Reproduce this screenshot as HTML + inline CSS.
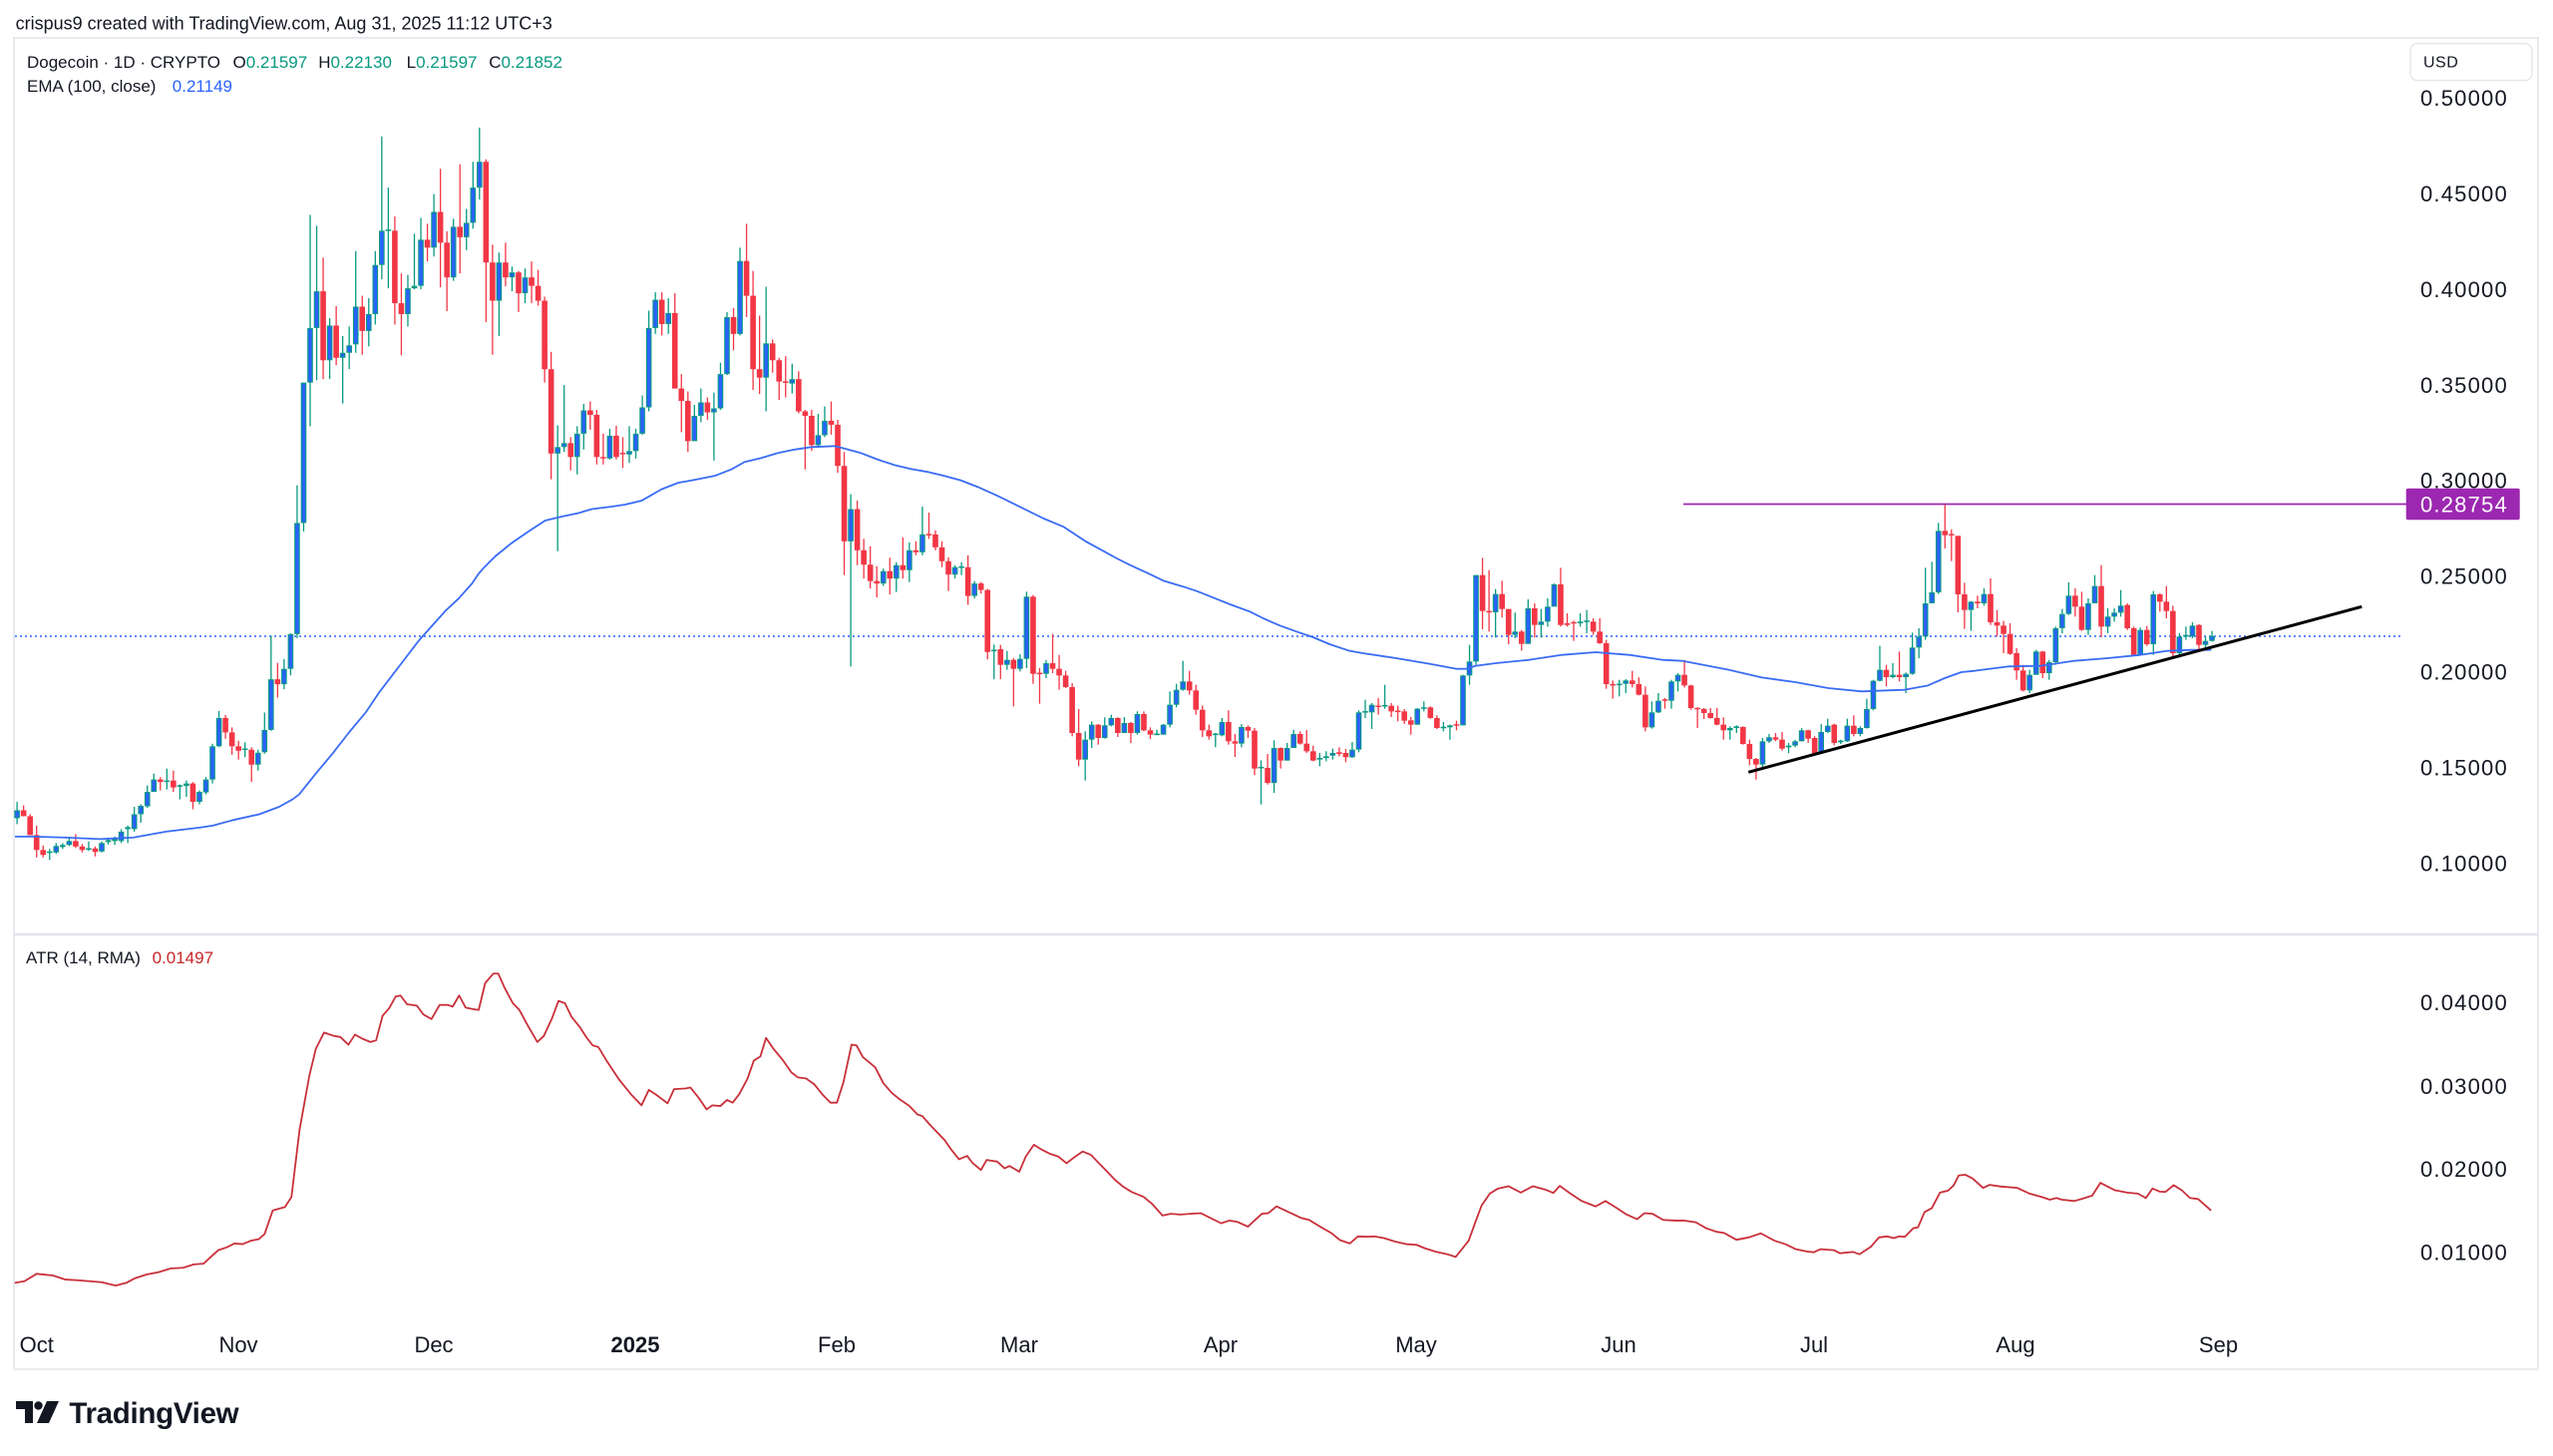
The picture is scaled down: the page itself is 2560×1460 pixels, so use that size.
<!DOCTYPE html>
<html><head><meta charset="utf-8">
<style>
html,body{margin:0;padding:0;background:#fff;}
body{width:2560px;height:1460px;overflow:hidden;}
svg{display:block;font-family:"Liberation Sans",Arial,sans-serif;}
</style></head><body>
<svg id="c" width="2560" height="1460" viewBox="0 0 2560 1460" xmlns="http://www.w3.org/2000/svg">
<rect width="2560" height="1460" fill="#ffffff"/>
<rect x="14" y="38" width="2531" height="1335" fill="none" stroke="#e8eaef" stroke-width="2"/>
<line x1="14" y1="937" x2="2545" y2="937" stroke="#e0e3eb" stroke-width="2.5"/>

<g id="plot"></g>

<!-- header -->
<text x="15.6" y="29.5" font-size="18" fill="#131722">crispus9 created with TradingView.com, Aug 31, 2025 11:12 UTC+3</text>
<text x="27" y="67.8" font-size="17" fill="#131722">Dogecoin · 1D · CRYPTO</text>
<text x="233.5" y="67.8" font-size="17" fill="#131722">O<tspan fill="#089981">0.21597</tspan></text>
<text x="319.2" y="67.8" font-size="17" fill="#131722">H<tspan fill="#089981">0.22130</tspan></text>
<text x="407.6" y="67.8" font-size="17" fill="#131722">L<tspan fill="#089981">0.21597</tspan></text>
<text x="490.2" y="67.8" font-size="17" fill="#131722">C<tspan fill="#089981">0.21852</tspan></text>
<text x="27" y="92.1" font-size="17" fill="#131722">EMA (100, close)</text>
<text x="172.8" y="92.1" font-size="17" fill="#2962ff">0.21149</text>
<text x="26" y="966" font-size="17" fill="#131722">ATR (14, RMA)</text>
<text x="152.6" y="966" font-size="17" fill="#c62828">0.01497</text>

<!-- USD box -->
<rect x="2417" y="43.6" width="122" height="37" rx="7" fill="#ffffff" stroke="#e6e8ee" stroke-width="1.5"/>
<text x="2430" y="67.7" font-size="16" fill="#131722" letter-spacing="0.5">USD</text>

<!-- price axis -->
<g font-size="22" fill="#131722" letter-spacing="1.2">
<text x="2427" y="106.1">0.50000</text>
<text x="2427" y="202">0.45000</text>
<text x="2427" y="297.9">0.40000</text>
<text x="2427" y="393.8">0.35000</text>
<text x="2427" y="489.7">0.30000</text>
<text x="2427" y="585.6">0.25000</text>
<text x="2427" y="681.5">0.20000</text>
<text x="2427" y="777.4">0.15000</text>
<text x="2427" y="873.3">0.10000</text>
<text x="2427" y="1012.9">0.04000</text>
<text x="2427" y="1096.9">0.03000</text>
<text x="2427" y="1180.2">0.02000</text>
<text x="2427" y="1263.6">0.01000</text>
</g>

<!-- purple level label -->
<rect x="2412.7" y="489.7" width="114" height="31.5" rx="2" fill="#9c27b0"/>
<text x="2427" y="513.4" font-size="22" fill="#ffffff" letter-spacing="1.2">0.28754</text>

<!-- time axis -->
<g font-size="22" fill="#131722" text-anchor="middle">
<text x="36.7" y="1356">Oct</text>
<text x="239" y="1356">Nov</text>
<text x="435" y="1356">Dec</text>
<text x="637" y="1356" font-weight="bold">2025</text>
<text x="839" y="1356">Feb</text>
<text x="1022" y="1356">Mar</text>
<text x="1224" y="1356">Apr</text>
<text x="1420" y="1356">May</text>
<text x="1623" y="1356">Jun</text>
<text x="1819" y="1356">Jul</text>
<text x="2021" y="1356">Aug</text>
<text x="2224.5" y="1356">Sep</text>
</g>

<!-- TradingView logo -->
<g fill="#131722">
<path d="M16 1405 H33 V1427 H25 V1413 H16 Z"/>
<circle cx="38.5" cy="1409.5" r="4.2"/>
<path d="M47 1405 H59 L49 1427 H37 Z"/>
</g>
<text x="69.4" y="1427" font-size="29.5" font-weight="bold" fill="#131722" letter-spacing="-0.3">TradingView</text>
</svg>

<script>
(function(){
const Z={
 z3:[0,110,3,2.01], z4:[480,110,3,2.01], z5:[1000,520,3,3], z6:[1500,480,3,3], z7:[1980,520,3,3],
 z8:[0,930,1.225,2.96], z9:[1280,930,1.225,2.96]
};
const cx=(z,v)=>z[0]+v/z[2];
const cy=(z,v)=>z[1]+v/z[3];
const X=d=>36.7+6.531*d;
const f=v=>v.toFixed(2);

const segs=[
[Z.z3,-3,`u 1412 1428 1395 1440
d 1412 1424 1402 1424
d 1424 1462 1420 1462
d 1462 1492 1443 1507
d 1492 1502 1483 1507
u 1495 1498 1490 1512
u 1484 1497 1478 1500
u 1482 1486 1478 1490
u 1474 1482 1467 1484
d 1474 1485 1460 1488
d 1485 1492 1480 1497
u 1489 1491 1475 1494
d 1489 1496 1485 1505
u 1478 1495 1475 1497
u 1472 1476 1467 1481
u 1470 1474 1465 1482
u 1455 1474 1450 1478
u 1446 1450 1443 1478
u 1420 1450 1405 1455
u 1403 1420 1400 1437
u 1375 1404 1362 1407
u 1350 1375 1338 1375
d 1350 1355 1345 1372
u 1352 1355 1328 1370
d 1352 1366 1332 1375
u 1362 1364 1360 1390
u 1358 1363 1352 1385
d 1358 1395 1355 1410
u 1375 1395 1372 1400
u 1350 1376 1345 1380
u 1283 1350 1278 1358
u 1226 1283 1212 1285
d 1226 1255 1220 1268
d 1255 1283 1245 1300
d 1283 1292 1272 1310
u 1288 1290 1275 1305
d 1290 1320 1285 1355
u 1296 1320 1290 1332
u 1250 1295 1215 1298
u 1148 1250 1060 1252
d 1148 1158 1115 1185
u 1127 1158 1107 1168
u 1057 1127 1055 1140
u 833 1057 757 1065
u 550 833 550 850
u 440 550 212 638
u 366 440 234 545
d 366 505 298 543
u 435 505 420 543
d 435 500 396 515
u 490 500 456 592
u 475 490 437 523
u 397 473 285 490
d 397 446 375 494
u 412 446 380 477
u 313 412 285 433
u 244 313 54 342
u 242 244 157 360
d 244 390 215 433
d 390 412 330 495
u 360 412 333 437
u 355 360 250 362
u 262 355 218 362
d 262 278 230 306
u 206 278 170 296
d 206 268 119 358
d 268 338 245 406
u 236 338 220 345
d 236 257 110 330
u 228 257 200 283
u 157 228 105 240
u 105 157 36 181`],
[Z.z4,69,`d 105 308 100 428
d 308 385 272 494
u 308 385 288 456
d 308 338 268 356
u 328 338 316 366
d 328 370 325 408
u 338 370 320 390
d 338 355 306 390
d 355 385 323 395
d 385 523 377 550
d 523 693 488 745
u 680 693 636 890
u 672 680 555 690
d 672 700 660 727
u 653 700 638 735
u 606 653 593 685
d 606 615 588 645
d 615 700 605 715
d 700 703 653 715
u 657 703 643 705
d 657 700 637 705
d 692 694 660 722
u 688 695 638 712
u 653 688 643 703
u 600 653 576 655
u 440 600 405 608
u 383 440 368 452
d 383 432 368 455
u 410 432 380 452
d 410 562 370 562
d 562 587 533 650
d 587 668 568 690
u 617 668 595 668
u 590 617 562 630
d 590 610 580 625
u 602 610 570 707
u 533 602 510 605
u 418 533 408 535
d 418 452 400 485
u 305 452 278 455
d 305 375 230 418
d 375 523 325 565
d 523 540 415 573
u 471 540 357 608
d 471 505 463 530
d 505 548 500 585
d 548 550 497 580
u 543 552 512 572
d 543 608 527 612
d 608 617 605 725
d 617 676 605 688
u 656 676 613 680
u 627 656 598 660
d 627 635 588 655
d 635 718 625 732
d 718 870 690 938
u 805 870 775 1122
d 805 888 788 918
d 888 917 865 945
d 917 950 880 965
d 950 955 920 983
u 930 955 925 960
d 930 945 903 977
u 918 945 912 972
d 918 928 862 945
u 888 928 872 952
d 888 892 870 898
u 856 892 800 898
d 855 858 812 865
d 856 882 848 888
d 882 910 870 922
d 910 937 902 970
u 922 937 918 945
u 921 923 912 938
d 922 980 898 998
u 955 980 950 985
d 955 968 952 975
d 968 1093 966 1108
u 1089 1091 1078 1148`],
[Z.z5,148,`d 393 440 380 483
u 425 440 398 455
d 425 452 420 565
u 422 452 408 460
u 235 422 220 450
d 235 467 230 497
d 465 467 450 557
u 435 467 425 480
d 435 452 347 465
d 452 472 410 515
d 472 507 458 510
d 507 645 495 655
d 645 725 573 745
u 665 725 640 788
u 620 665 610 690
d 620 660 618 680
u 622 660 598 662
u 600 622 590 625
d 600 645 597 657
u 615 645 597 645
d 615 645 612 675
u 588 645 580 650
d 588 637 580 640
d 637 650 628 663
u 648 650 635 652
u 620 650 618 650
u 560 620 520 628
u 515 560 497 568
u 490 515 428 518
d 490 517 458 530
d 517 575 500 590
d 575 637 562 657
d 637 655 620 665
u 648 650 645 688
u 612 652 600 655
d 612 670 577 680
d 670 677 648 717
u 627 677 618 688
d 627 638 622 660
d 638 752 630 772
u 748 750 727 860
d 750 795 708 800
u 690 795 667 825
d 690 728 688 752
u 690 728 675 728
u 648 690 635 690
d 648 677 640 680
d 677 700 636 705
d 700 728 683 730
u 720 725 705 745
u 715 720 700 730
u 705 713 692 725
d 703 708 688 715
d 705 718 693 733
u 695 718 672 720
u 583 695 577 703
u 580 583 545 600
u 560 583 555 633
d 563 567 540 590
u 562 564 500 572
d 563 580 555 597
d 578 582 563 610
d 580 608 573 618
d 607 620 597 650
u 572 620 570 620
u 568 572 550 580
d 568 600 565 602
d 600 630 592 633
u 627 630 612 640
u 622 628 620 665
d 620 622 608 637
u 472 622 470 622
u 430 472 380 500
u 170 430 170 440
d 170 278 118 333
d 278 282 155 340
u 227 282 212 358
d 227 272 187 298
d 272 350 272 378`],
[Z.z6,227,`u 460 470 403 480
d 460 497 455 517
u 390 497 363 497
d 390 440 375 478
u 430 440 392 478
u 385 430 360 445
u 318 385 315 385
d 318 440 268 445
d 435 440 405 445
d 432 435 427 488
u 430 435 405 445
u 428 430 395 465
d 430 460 420 470
d 460 495 420 497
d 495 618 485 632
d 618 622 607 662
u 618 620 605 655
u 607 617 603 645
d 607 618 578 628
d 618 650 598 652
d 650 748 625 760
u 703 748 670 752
u 668 703 645 705
d 664 668 660 692
u 610 668 605 692
u 590 610 585 640
d 590 622 545 628
d 622 690 620 695
d 690 693 688 750
d 693 705 690 723
d 705 720 690 722
d 720 740 690 742
d 740 757 718 785
u 750 757 745 785
u 745 750 742 765
d 747 798 745 800
d 798 843 785 862
d 843 860 840 905
u 790 860 780 870
u 778 790 768 795
d 778 785 765 790
d 785 812 762 818
u 803 808 795 826
u 790 803 786 808
u 757 790 750 790
d 757 782 755 795
d 780 826 775 828
u 762 826 738 826
u 743 762 722 765
d 740 795 737 802
u 788 793 785 798
u 743 790 722 792
d 743 768 712 775
u 750 768 745 775
u 693 750 662 752
u 608 693 605 697
u 575 608 503 610
d 575 597 560 625
u 590 597 555 600
d 590 597 520 610
u 587 597 583 645
u 508 587 463 590
u 475 508 450 540
u 375 475 268 485
u 342 375 250 375
u 157 342 133 347
d 157 170 76 210
d 167 170 152 248
d 172 348 172 402
d 348 395 313 452
u 370 395 368 458`],
[Z.z7,298,`d 250 255 232 270
u 227 255 210 262
d 227 312 180 320
d 312 322 275 355
d 322 347 308 405
d 347 407 315 410
d 405 457 390 485
d 457 517 440 520
u 470 517 455 525
u 400 470 395 470
d 400 465 398 480
u 432 465 425 485
u 330 432 325 440
u 287 330 272 345
u 232 287 192 290
d 232 265 210 295
d 265 335 220 338
u 255 335 240 350
u 203 255 170 255
d 203 325 140 357
u 295 325 270 345
u 283 295 270 310
u 262 283 215 295
d 260 330 255 335
d 330 410 325 412
u 335 410 328 412
d 335 378 323 383
u 228 378 218 410
d 228 250 225 280
d 250 278 203 300
d 278 405 262 423
u 355 405 345 418
u 350 355 325 365
u 322 355 312 360
d 320 380 318 400
u 368 380 355 393
u 353 368 338 370`]
];

const GREEN="#089981", BLUE="#2962ff", RED="#f23645";
let wicks="", bodies="";
segs.forEach(([z,d0,txt])=>{
  const lines=txt.trim().split("\n");
  lines.forEach((ln,i)=>{
    const p=ln.trim().split(/\s+/);
    const t=p[0]; const a=+p[1], b=+p[2], c=+p[3], e=+p[4];
    const d=d0+i; const x=X(d);
    let bt=cy(z,Math.min(a,b)), bb=cy(z,Math.max(a,b));
    let wt=cy(z,c), wb=cy(z,e);
    if(bb-bt<1.5){const m=(bt+bb)/2; bt=m-0.75; bb=m+0.75;}
    wt=Math.min(wt,bt); wb=Math.max(wb,bb);
    const col = t==="u"?GREEN:RED;
    wicks+=`<rect x="${f(x-0.65)}" y="${f(wt)}" width="1.3" height="${f(wb-wt)}" fill="${col}"/>`;
    if(t==="u"){
      bodies+=`<rect x="${f(x-2.8)}" y="${f(bt)}" width="5.6" height="${f(bb-bt)}" fill="${GREEN}"/>`;
      if(bb-bt>2.6) bodies+=`<rect x="${f(x-1.7)}" y="${f(bt+1.1)}" width="3.4" height="${f(bb-bt-2.2)}" fill="${BLUE}"/>`;
    } else {
      bodies+=`<rect x="${f(x-2.8)}" y="${f(bt)}" width="5.6" height="${f(bb-bt)}" fill="${RED}"/>`;
    }
  });
});

function conv(z,arr){return arr.map(([a,b])=>[cx(z,a),cy(z,b)]);}
const ema=[].concat(
 conv(Z.z3,[[45,1465],[100,1465],[200,1467],[300,1470],[400,1467],[500,1455],[600,1447],[640,1443],[700,1432],[780,1420],[840,1405],[880,1390],[900,1380],[950,1338],[1000,1298],[1050,1255],[1100,1215],[1140,1175],[1180,1140],[1220,1105],[1260,1070],[1300,1040],[1340,1010],[1380,985],[1420,955]]),
 conv(Z.z4,[[0,935],[20,920],[50,900],[100,873],[150,850],[200,828],[250,820],[300,813],[340,805],[400,800],[440,796],[490,788],[550,765],[600,752],[650,746],[710,738],[760,725],[800,710],[850,702],[900,692],[950,685],[1000,680],[1070,678],[1100,683],[1150,692],[1200,705],[1250,716],[1300,724],[1350,730],[1400,738],[1450,747],[1500,760],[1560,778]]),
 conv(Z.z5,[[140,0],[200,25],[265,68],[320,98],[360,120],[400,140],[450,163],[500,187],[560,205],[600,218],[650,238],[700,258],[760,280],[800,300],[850,322],[900,340],[950,357],[1000,378],[1060,398],[1100,405],[1200,420],[1300,437],[1380,452],[1410,452],[1440,443]]),
 conv(Z.z6,[[0,555],[100,545],[200,530],[300,522],[400,530],[500,545],[560,548],[700,575],[800,598],[900,612],[1000,630],[1100,640],[1230,635],[1300,622],[1350,600],[1400,582]]),
 conv(Z.z7,[[0,458],[100,445],[200,443],[300,428],[400,420],[500,410],[580,398],[650,395],[712,395]])
);

function parsePts(s){return s.trim().split(/\s+/).map(q=>q.split(",").map(Number));}
const atr=[].concat(
 conv(Z.z8,parsePts(`18,1055 30,1050 45,1028 65,1033 80,1045 95,1047 110,1050 125,1053 142,1063 155,1055 165,1042 180,1030 195,1023 210,1012 225,1010 238,1000 250,998 258,980 268,958 278,950 288,938 298,940 308,930 318,925 325,910 335,840 350,830 358,800 368,600 380,440 388,360 398,312 410,322 418,325 428,348 436,318 445,330 455,340 462,335 470,262 478,240 486,205 492,202 500,228 512,232 520,258 530,272 540,230 550,230 556,235 564,202 572,238 580,242 588,245 596,165 606,137 612,137 620,180 630,225 638,245 648,290 660,340 668,322 678,270 686,218 694,225 702,265 712,295 720,325 728,350 735,355 745,395 760,450 775,495 788,528 797,482 808,500 820,522 828,480 842,478 848,475 858,505 868,540 875,528 885,530 893,512 900,520 908,495 918,450 926,395 934,383 941,328 950,360 962,395 972,430 980,445 990,448 1000,465 1010,495 1020,520 1028,520 1036,460 1046,348 1052,350 1060,385 1075,415 1085,462 1095,490 1105,510 1117,530 1127,555 1133,560 1142,585 1152,610 1160,630 1168,658 1178,688 1188,678 1195,700 1205,720 1212,690 1225,695 1234,715 1240,708 1252,725 1260,680 1270,645 1280,660 1290,672 1300,680 1310,700 1318,685 1330,665 1340,675 1350,700 1360,725 1370,750 1380,770 1390,785 1405,800 1415,820 1428,855 1438,850 1450,852 1462,850 1475,848 1485,860 1500,878 1510,870 1520,874 1533,888 1540,872 1550,850 1558,848`)),
 conv(Z.z9,parsePts(`0,828 15,845 30,862 40,868 55,890 68,908 78,928 90,938 100,917 112,918 120,917 132,922 145,932 160,940 172,942 182,952 195,962 210,970 220,978 236,930 245,870 252,825 262,790 272,775 285,768 300,787 315,768 330,778 340,788 348,767 360,788 375,812 392,828 404,812 418,833 430,852 443,866 452,848 462,850 475,868 490,870 500,870 515,875 528,893 540,903 550,907 565,927 580,920 595,908 612,930 625,940 638,955 652,962 660,964 668,955 685,958 692,967 708,963 716,970 730,948 740,920 750,917 758,922 765,917 772,918 782,893 788,890 796,845 805,833 815,787 825,781 832,765 838,736 846,734 855,745 868,773 876,764 890,769 910,773 925,790 940,800 950,808 958,803 965,808 980,812 990,805 1002,796 1012,758 1030,780 1045,787 1058,790 1068,803 1076,775 1085,784 1092,785 1102,765 1112,780 1122,803 1132,806 1140,823 1148,840`))
);
const P=a=>a.map(p=>f(p[0])+","+f(p[1])).join(" ");

let html="";
html+=`<line x1="15" y1="638" x2="2410" y2="638" stroke="#2962ff" stroke-width="1.6" stroke-dasharray="2 3"/>`;
html+=wicks+bodies;
html+=`<polyline points="${P(ema)}" fill="none" stroke="#3a6cf4" stroke-width="1.8" stroke-linejoin="round"/>`;
html+=`<line x1="1753.3" y1="774.3" x2="2368.3" y2="608.3" stroke="#000000" stroke-width="3"/>`;
html+=`<line x1="1688" y1="505.5" x2="2413" y2="505.5" stroke="#9c27b0" stroke-width="1.8"/>`;
html+=`<polyline points="${P(atr)}" fill="none" stroke="#c9303a" stroke-width="1.8" stroke-linejoin="round"/>`;
document.getElementById("plot").innerHTML=html;
})();
</script>
</body></html>
